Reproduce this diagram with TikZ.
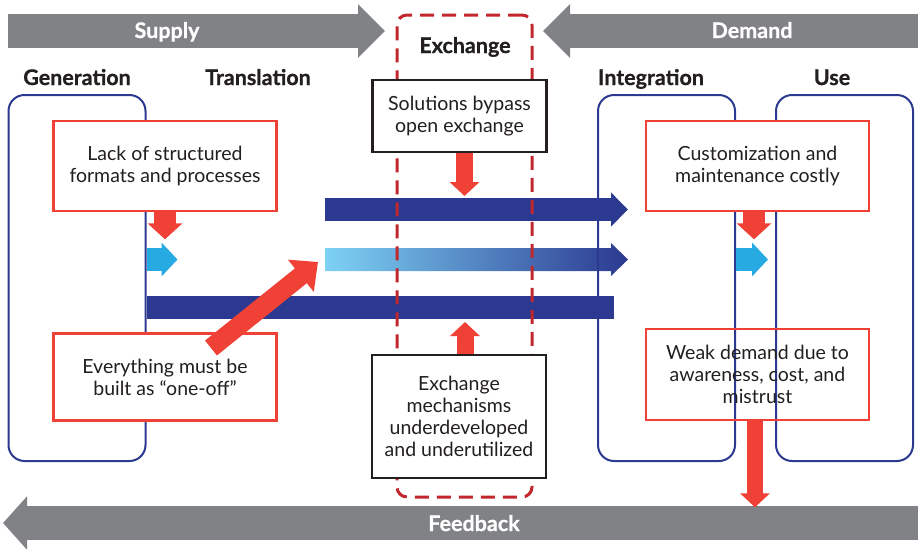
\documentclass[tikz,border=0pt]{standalone}
\usepackage{fontspec}
\setmainfont{Lato}[BoldFeatures={FakeBold=0.8}]
\usepackage{xcolor}
\definecolor{navy}{RGB}{43,57,144}
\definecolor{boxred}{RGB}{239,65,54}
\definecolor{dashred}{RGB}{193,39,45}
\definecolor{bandgray}{RGB}{128,130,133}
\definecolor{skyblue}{RGB}{39,170,225}
\definecolor{paleblue}{RGB}{125,210,245}
\definecolor{ink}{RGB}{35,31,32}
\usetikzlibrary{arrows.meta, positioning}
\tikzset{
    font={\fontsize{19.5pt}{22pt}\selectfont},
    text=ink,
    bluebox/.style={draw=navy, line width=2pt, rounded corners=16pt,
        minimum width=137pt, minimum height=366pt},
    redbox/.style={draw=boxred, line width=2.6pt, align=center,
        minimum width=223pt},
    blackbox/.style={draw=ink, fill=white, line width=2.5pt, align=center,
        minimum width=174pt},
    exbox/.style={draw=dashred, line width=3pt, rounded corners=10pt,
        dash pattern=on 14pt off 8pt, minimum width=135pt, minimum height=482pt},
    head/.style={font={\fontsize{21.5pt}{24pt}\selectfont\bfseries}, anchor=base},
    bandtext/.style={font={\fontsize{21.5pt}{24pt}\selectfont\bfseries},
        text=white, anchor=base},
    bandarrow/.style={draw=bandgray, line width=34pt,
        -{Triangle[width=52pt,length=27pt]}},
    navyarrow/.style={draw=navy, line width=23pt,
        -{Triangle[width=33pt,length=17pt]}},
    cyanarrow/.style={draw=skyblue, line width=23pt,
        -{Triangle[width=33pt,length=16pt]}},
    redarrow/.style={draw=boxred, line width=17pt,
        -{Triangle[width=29pt,length=14pt]}},
    }

\begin{document}
\begin{tikzpicture}
    [x=1pt, y=-1pt]
    \useasboundingbox (0,0) rectangle (918,550);
    % bands
    \coordinate (supplyS) at (8,31);
    \coordinate (supplyE) at (385,31);
    \coordinate (demandS) at (918,31);
    \coordinate (demandE) at (543,31);
    \coordinate (feedS) at (918,523);
    \coordinate (feedE) at (3,523);
    \draw[bandarrow] (supplyS) -- (supplyE);
    \draw[bandarrow] (demandS) -- (demandE);
    \draw[bandarrow, -{Triangle[width=52pt,length=24pt]}] (feedS) -- (feedE);
    \node[bandtext] (supply) at (167,38) {Supply};
    \node[bandtext] (demand) at (752,38) {Demand};
    \node[bandtext] (feedback) at (474,531) {Feedback};
    % flows
    \coordinate (barS) at (325,209.5);
    \coordinate (barE) at (628,209.5);
    \coordinate (gradS) at (325,259.5);
    \coordinate (longE) at (614,307.5);
    \draw[navyarrow] (barS) -- (barE);
    \shade[left color=paleblue, right color=navy]
        (325,248) -- (611,248) -- (611,243) -- (628,259.5)
        -- (611,276) -- (611,271) -- (325,271) -- cycle;
    % stages
    \node[bluebox] (gen) at (77,278) {};
    \node[bluebox] (integ) at (666.5,278) {};
    \node[bluebox] (use) at (844.5,278) {};
    \draw[navy, line width=23pt] (gen.east |- longE) -- (longE);
    \draw[cyanarrow] (gen.east |- gradS) -- ++(31,0);
    \draw[cyanarrow] (integ.east |- gradS) -- ++(32,0);
    \node[head] at (77,85) {Generation};
    \node[head] at (258,85) {Translation};
    \node[head] at (651,85) {Integration};
    \node[head] at (832,85) {Use};
    % exchange
    \node[exbox] (exch) at (464.5,256) {};
    \node[head] at (465,53) {Exchange};
    % barriers
    \node[redbox, fill=white, minimum height=90pt] (lack) at (165,166)
        {Lack of structured\\formats and processes};
    \node[redbox, fill=white, minimum height=87pt] (oneoff) at (165,377)
        {Everything must be\\built as “one-off”};
    \node[redbox, fill=white, minimum height=90pt] (custom) at (757.5,166)
        {Customization and\\maintenance costly};
    \node[redbox, minimum height=91pt] (weak) at (757.5,374.5)
        {Weak demand due to\\awareness, cost, and\\mistrust};
    \node[blackbox, minimum height=72pt] (bypass) at (459.5,116)
        {Solutions bypass\\open exchange};
    \node[blackbox, minimum height=123pt] (mech) at (459,416.5)
        {Exchange\\mechanisms\\underdeveloped\\and underutilized};
    % red arrows
    \coordinate (bypassTip) at (464.5,196);
    \coordinate (mechTip) at (465,322);
    \coordinate (oneoffTail) at (211,348);
    \coordinate (oneoffTip) at (318,262);
    \draw[redarrow] (bypass.south -| bypassTip) -- (bypassTip);
    \draw[redarrow] (mech.north -| mechTip) -- (mechTip);
    \draw[redarrow, line width=22pt, -{Triangle[width=34pt,length=16pt]}]
        (lack.south) -- ++(0,27);
    \draw[redarrow, line width=22pt, -{Triangle[width=34pt,length=16pt]}]
        ([xshift=-3.5pt]custom.south) -- ++(0,27);
    \draw[redarrow, line width=16pt]
        ([xshift=-2.5pt]weak.south) -- ++(0,86);
    \draw[redarrow, line width=19pt, -{Triangle[width=40pt,length=22pt]}]
        (oneoffTail) -- (oneoffTip);
\end{tikzpicture}
\end{document}
